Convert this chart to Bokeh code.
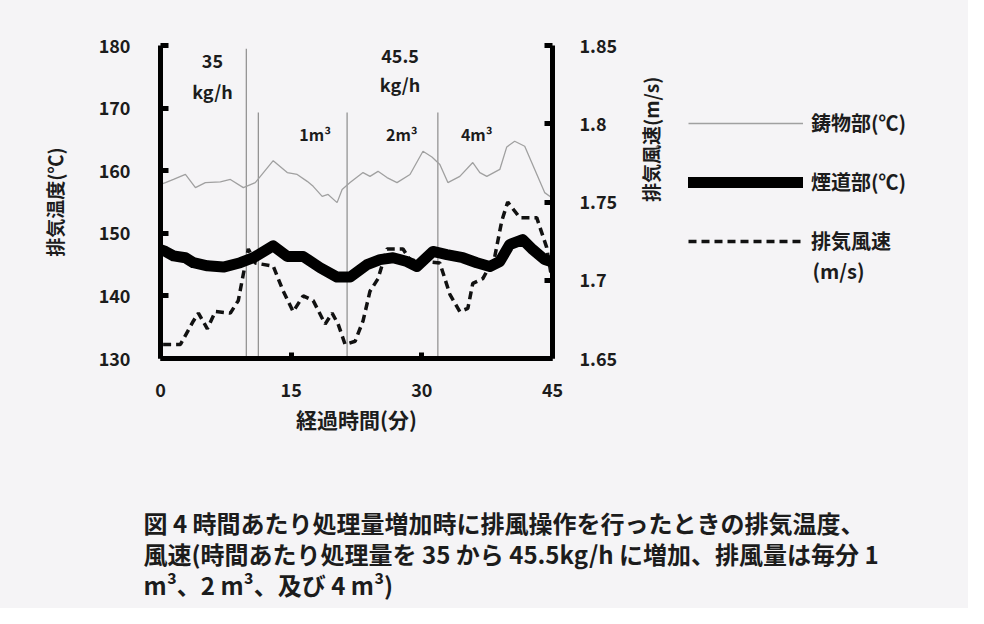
from bokeh.plotting import figure
from bokeh.layouts import column, row
from bokeh.models import (Range1d, LinearAxis, FixedTicker, Label, Legend, LegendItem)
from bokeh.embed import file_html
from bokeh.resources import INLINE

NAN = float("nan")

# ---------------- data ----------------
# 鋳物部 (°C), thin grey line
time_cast = [0.0, 0.57, 1.49, 2.86, 4.01, 5.15, 6.87, 8.02, 9.51, 10.88, 12.94, 14.55,
             15.69, 16.84, 17.53, 18.56, 19.24, 20.27, 20.85, 21.76, 23.25, 24.05,
             24.97, 26.0, 27.15, 28.64, 30.13, 31.16, 32.07, 32.99, 34.36, 35.85,
             36.66, 37.46, 38.95, 39.75, 40.66, 41.81, 42.96, 44.1, 44.8]
temp_cast = [157.8, 158.1, 158.6, 159.4, 157.3, 158.1, 158.2, 158.6, 157.3, 158.1, 161.6, 159.7,
             159.4, 158.3, 157.5, 155.9, 156.2, 154.9, 157.0, 158.1, 159.7, 159.1,
             159.9, 158.9, 158.1, 159.4, 163.1, 162.2, 161.0, 158.1, 159.1, 161.3,
             159.7, 159.1, 160.2, 163.8, 164.7, 163.9, 160.2, 156.5, 155.8]

# 煙道部 (°C), thick black line
time_flue = [0.0, 0.57, 1.49, 2.86, 3.78, 5.38, 7.22, 9.16, 10.65, 12.94, 14.55, 16.38,
             18.33, 20.27, 21.76, 23.71, 25.2, 26.69, 28.29, 29.44, 31.27, 32.87,
             34.71, 36.31, 37.8, 38.95, 40.09, 41.58, 42.73, 44.1, 44.8]
temp_flue = [147.4, 147.1, 146.4, 146.1, 145.3, 144.8, 144.6, 145.3, 146.1, 148.0, 146.3, 146.3,
             144.5, 143.0, 143.0, 145.0, 145.8, 146.1, 145.5, 144.7, 147.1, 146.6,
             146.1, 145.3, 144.7, 145.5, 148.2, 149.0, 147.4, 145.8, 145.5]

# 排気風速 (m/s), dashed line, right axis
time_vel = [0.3, 0.57, 2.29, 3.78, 4.35, 5.38, 6.3, 8.02, 8.93, 9.51, 10.08, 10.88, 12.94,
            14.09, 15.23, 16.38, 17.53, 18.9, 19.7, 20.39, 21.19, 22.34, 23.25, 24.05,
            24.97, 26.0, 27.84, 28.64, 32.07, 33.22, 34.36, 35.28, 35.85, 37.0, 38.37,
            39.18, 39.86, 41.24, 43.19, 44.33, 44.8]
vel = [1.659, 1.659, 1.659, 1.674, 1.679, 1.669, 1.680, 1.679, 1.687, 1.704, 1.720, 1.711, 1.709,
       1.693, 1.680, 1.690, 1.687, 1.672, 1.679, 1.672, 1.659, 1.661, 1.674, 1.693,
       1.701, 1.720, 1.720, 1.713, 1.711, 1.691, 1.680, 1.682, 1.698, 1.701, 1.715,
       1.738, 1.750, 1.740, 1.740, 1.721, 1.705]

# operation change times (min) and top of each marker line (°C)
event_times = [9.85, 11.23, 21.42, 31.84]
event_tops = [179.5, 169.3, 169.3, 169.3]

left_ticks = [130, 140, 150, 160, 170, 180]
right_ticks = [1.65, 1.7, 1.75, 1.8, 1.85]
right_tick_labels = ["1.65", "1.7", "1.75", "1.8", "1.85"]
x_ticks = [0, 15, 30, 45]

legend_labels = ["鋳物部(℃)", "煙道部(℃)", "排気風速"]
legend_unit = "(m/s)"
caption_lines = ["図 4 時間あたり処理量増加時に排風操作を行ったときの排気温度、",
                 "風速(時間あたり処理量を 35 から 45.5kg/h に増加、排風量は毎分 1",
                 "m³、2 m³、及び 4 m³)"]

FONT = "Noto Sans CJK JP"
BG = "#f5f4f6"
INK = "#1c1c1c"

CAST_STYLE = dict(line_color="#a0a0a0", line_width=1.3)
FLUE_STYLE = dict(line_color="#000000", line_width=11, line_join="round", line_cap="round")
VEL_STYLE = dict(line_color="#111111", line_width=3.5, line_dash="8 5")


def base(fig):
    fig.background_fill_color = BG
    fig.border_fill_color = BG
    fig.outline_line_color = None
    fig.xgrid.visible = False
    fig.ygrid.visible = False


def lab(fig, x, y, text, size="18px", align="center"):
    fig.add_layout(Label(x=x, y=y, text=text, text_font=FONT, text_font_size=size,
                         text_font_style="bold", text_color=INK, text_align=align,
                         text_baseline="middle"))


# ---------------- main chart ----------------
p = figure(width=680, height=450, output_backend="svg", toolbar_location=None,
           x_range=Range1d(0, 45), y_range=Range1d(130, 180), title=None,
           min_border_left=160, min_border_right=127, min_border_top=45,
           min_border_bottom=92)
base(p)
p.extra_y_ranges = {"v": Range1d(1.65, 1.85)}


def style_axis(ax):
    ax.axis_line_width = 5
    ax.axis_line_color = "#000000"
    ax.major_tick_in = 8
    ax.major_tick_out = 0
    ax.major_tick_line_width = 5
    ax.major_tick_line_color = "#000000"
    ax.minor_tick_line_color = None
    ax.major_label_text_font = FONT
    ax.major_label_text_font_size = "18px"
    ax.major_label_text_font_style = "bold"
    ax.major_label_text_color = INK
    ax.axis_label_text_font = FONT
    ax.axis_label_text_font_style = "bold"
    ax.axis_label_text_color = INK


yax = p.yaxis[0]
yax.ticker = FixedTicker(ticks=left_ticks)
style_axis(yax)
yax.major_label_standoff = 30
yax.axis_label = "排気温度(℃)"
yax.axis_label_text_font_size = "19px"
yax.axis_label_standoff = 28

xax = p.xaxis[0]
xax.ticker = FixedTicker(ticks=x_ticks)
style_axis(xax)
xax.major_tick_in = 6
xax.major_label_standoff = 24
xax.axis_label = "経過時間(分)"
xax.axis_label_text_font_size = "21px"
xax.axis_label_standoff = 4

rax = LinearAxis(y_range_name="v", ticker=FixedTicker(ticks=right_ticks),
                 major_label_overrides={t: s for t, s in zip(right_ticks, right_tick_labels)})
style_axis(rax)
rax.major_label_standoff = 27
rax.axis_label = "排気風速(m/s)"
rax.axis_label_text_font_size = "19px"
rax.axis_label_standoff = 30
rax.axis_label_orientation = 1.5708
p.add_layout(rax, "right")

# marker lines
p.segment(x0=event_times, y0=[130] * len(event_times), x1=event_times, y1=event_tops,
          line_color="#8c8c8c", line_width=1.2)

p.line(time_cast, temp_cast, **CAST_STYLE)
p.line(time_vel, vel, y_range_name="v", **VEL_STYLE)
p.line(time_flue, temp_flue, **FLUE_STYLE)

lab(p, 5.96, 177.6, "35")
lab(p, 5.96, 172.8, "kg/h")
lab(p, 27.5, 178.4, "45.5")
lab(p, 27.5, 173.9, "kg/h")
lab(p, 17.75, 165.9, "1m³", size="16px")
lab(p, 27.7, 165.9, "2m³", size="16px")
lab(p, 36.3, 165.9, "4m³", size="16px")

# ---------------- legend panel (right of chart) ----------------
lg = figure(width=288, height=450, output_backend="svg", toolbar_location=None,
            x_range=Range1d(680, 968), y_range=Range1d(358, 45), title=None,
            min_border_left=0, min_border_right=0, min_border_top=45, min_border_bottom=92)
base(lg)
lg.xaxis.visible = False
lg.yaxis.visible = False
r1 = lg.line([NAN, NAN], [NAN, NAN], **CAST_STYLE)
r2 = lg.line([NAN, NAN], [NAN, NAN], **FLUE_STYLE)
r3 = lg.line([NAN, NAN], [NAN, NAN], **VEL_STYLE)
legend = Legend(items=[LegendItem(label=legend_labels[0], renderers=[r1]),
                       LegendItem(label=legend_labels[1], renderers=[r2]),
                       LegendItem(label=legend_labels[2], renderers=[r3])],
                location=(8, 103), glyph_width=115, glyph_height=20, spacing=30,
                padding=0, margin=0, label_standoff=8,
                label_text_font=FONT, label_text_font_size="20px",
                label_text_font_style="bold", label_text_color=INK,
                background_fill_alpha=0, border_line_alpha=0)
lg.add_layout(legend)
lab(lg, 812, 270, legend_unit, size="20px", align="left")

# ---------------- caption ----------------
cap = figure(width=968, height=158, output_backend="svg", toolbar_location=None,
             x_range=Range1d(0, 968), y_range=Range1d(608, 450), title=None,
             min_border_left=0, min_border_right=0, min_border_top=0, min_border_bottom=0)
base(cap)
cap.xaxis.visible = False
cap.yaxis.visible = False
for yy, txt in zip([522, 553, 584], caption_lines):
    lab(cap, 143, yy, txt, size="24px", align="left")

top_row = row(p, lg, spacing=0, styles={"background-color": BG})
layout = column(top_row, cap, spacing=0, styles={"background-color": BG})
open("out.html", "w").write(file_html(layout, INLINE))
